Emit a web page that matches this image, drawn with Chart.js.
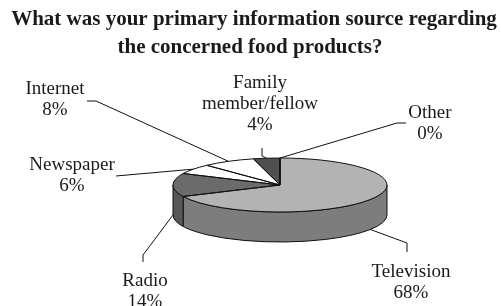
<!DOCTYPE html>
<html lang="en">
<head>
<meta charset="UTF-8">
<title>Primary information source</title>
<script src="https://cdn.jsdelivr.net/npm/chart.js"></script>
<style>
  html, body { margin: 0; padding: 0; background: #fff; }
  canvas { display: block; }
</style>
</head>
<body>
<canvas id="chart" width="501" height="306"></canvas>
<script>
const titleLines = ['What was your primary information source regarding', 'the concerned food products?'];
const sources = ['Television', 'Radio', 'Newspaper', 'Internet', 'Family member/fellow', 'Other'];
const shares = [68, 14, 6, 8, 4, 0];
const topColors = ['#b3b3b3', '#6b6b6b', '#ffffff', '#ffffff', '#505050', '#ffffff'];
const sideColors = ['#7d7d7d', '#575757', '#dddddd', '#dddddd', '#3c3c3c', '#dddddd'];

// label anchor (first baseline) + bend points of the leader line
const labelPos = [
    { x: 411, y: 277, from: [[407, 252], [407, 243]], rim: 'bottom' },
    { x: 145, y: 286, from: [[143, 262], [143, 255]], rim: 'bottom' },
    { x: 72, y: 170, from: [[116, 176]], rim: 'top' },
    { x: 55, y: 94, from: [[87, 101], [96, 101]], rim: 'top' },
    { x: 260, y: 88, from: [[262, 148], [262, 156]], rim: 'top' },
    { x: 430, y: 118, from: [[406, 123], [397, 123]], rim: 'top' },
];

const RY = 27;      // half height of the tilted top face
const DEPTH = 30;   // thickness of the pie

function nameLines(s) {
    const i = s.indexOf(' ');
    return i < 0 ? [s] : [s.slice(0, i), s.slice(i + 1)];
}

const pie3d = {
    id: 'pie3d',
    beforeDatasetsDraw(chart) {
        const ctx = chart.ctx;
        const arcs = chart.getDatasetMeta(0).data;
        const { x: cx, y: cy, outerRadius: r } = arcs[0];

        // front wall
        ctx.save();
        ctx.lineWidth = 1;
        ctx.strokeStyle = '#111';
        arcs.forEach((arc, i) => {
            const a = Math.max(arc.startAngle, 0);
            const b = Math.min(arc.endAngle, Math.PI);
            if (b <= a) return;
            ctx.beginPath();
            ctx.ellipse(cx, cy, r, RY, 0, a, b, false);
            ctx.lineTo(cx + r * Math.cos(b), cy + RY * Math.sin(b) + DEPTH);
            ctx.ellipse(cx, cy + DEPTH, r, RY, 0, b, a, true);
            ctx.closePath();
            ctx.fillStyle = sideColors[i];
            ctx.fill();
            ctx.stroke();
        });
        ctx.restore();

        // squash the library's pie into the tilted top face
        ctx.save();
        ctx.translate(cx, cy);
        ctx.scale(1, RY / r);
        ctx.translate(-cx, -cy);
    },
    afterDatasetsDraw(chart) {
        const ctx = chart.ctx;
        ctx.restore();
        const arcs = chart.getDatasetMeta(0).data;
        const { x: cx, y: cy, outerRadius: r } = arcs[0];

        ctx.save();
        ctx.lineWidth = 1;
        ctx.strokeStyle = '#111';
        arcs.forEach(arc => {
            const s = arc.startAngle, e = arc.endAngle;
            ctx.beginPath();
            ctx.moveTo(cx, cy);
            ctx.lineTo(cx + r * Math.cos(s), cy + RY * Math.sin(s));
            if (e > s) ctx.ellipse(cx, cy, r, RY, 0, s, e, false);
            ctx.closePath();
            ctx.stroke();
        });

        // leader lines
        arcs.forEach((arc, i) => {
            const p = labelPos[i];
            const m = (arc.startAngle + arc.endAngle) / 2;
            const ex = cx + r * Math.cos(m);
            const ey = cy + RY * Math.sin(m) + (p.rim === 'bottom' ? DEPTH : 0);
            ctx.beginPath();
            ctx.moveTo(p.from[0][0], p.from[0][1]);
            p.from.slice(1).forEach(pt => ctx.lineTo(pt[0], pt[1]));
            ctx.lineTo(ex, ey);
            ctx.stroke();
        });

        // labels
        ctx.fillStyle = '#1a1a1a';
        ctx.textAlign = 'center';
        ctx.textBaseline = 'alphabetic';
        ctx.font = '19px "Liberation Serif", "Times New Roman", serif';
        sources.forEach((name, i) => {
            const p = labelPos[i];
            const lines = nameLines(name).concat([shares[i] + '%']);
            lines.forEach((t, j) => ctx.fillText(t, p.x, p.y + j * 21));
        });

        // title
        ctx.font = 'bold 21px "Liberation Serif", "Times New Roman", serif';
        ctx.fillText(titleLines[0], 254, 25);
        ctx.fillText(titleLines[1], 250, 53);
        ctx.restore();
    }
};

new Chart(document.getElementById('chart'), {
    type: 'pie',
    data: {
        labels: sources,
        datasets: [{
            data: shares,
            backgroundColor: topColors,
            borderWidth: 0
        }]
    },
    options: {
        responsive: false,
        animation: false,
        layout: { padding: { left: 173, right: 114, top: 78, bottom: 14 } },
        plugins: {
            legend: { display: false },
            tooltip: { enabled: false }
        }
    },
    plugins: [pie3d]
});
</script>
</body>
</html>
